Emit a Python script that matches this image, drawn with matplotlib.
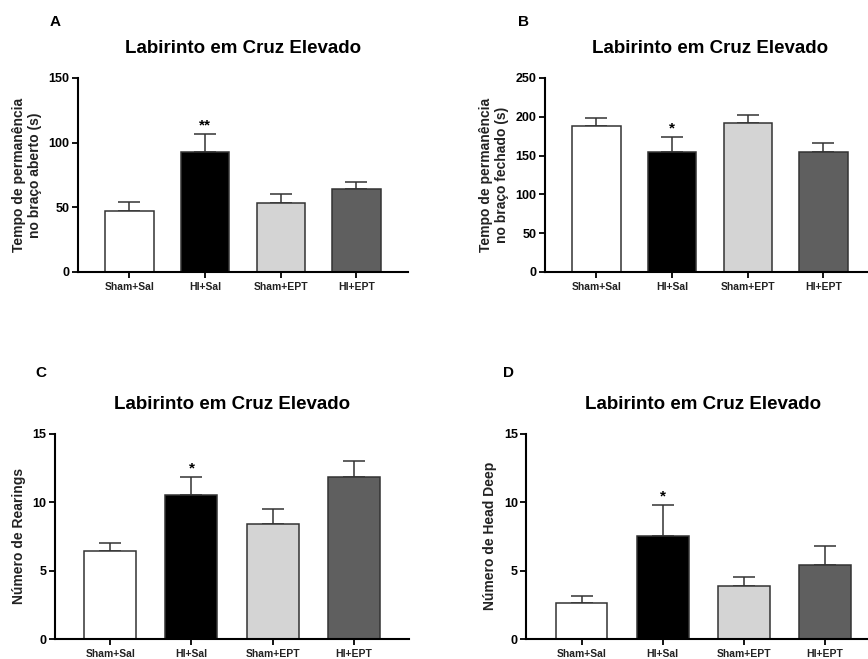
# Elevated plus maze: four panels, mean + SEM bars (GraphPad-style).

import matplotlib
matplotlib.use("Agg")

import matplotlib.pyplot as plt
import numpy as np

plt.rcParams["font.family"] = ["Liberation Sans", "DejaVu Sans"]
plt.rcParams["font.weight"] = "bold"

groups = ["Sham+Sal", "HI+Sal", "Sham+EPT", "HI+EPT"]
bar_colors = ["#ffffff", "#000000", "#d4d4d4", "#5f5f5f"]

# panel A: time in open arm (s)
open_mean = [47, 93, 53, 64]
open_sem = [7, 13.5, 7.5, 5.5]
open_stars = ["", "**", "", ""]

# panel B: time in closed arm (s)
closed_mean = [188.5, 154.5, 192.5, 154]
closed_sem = [10, 20, 10, 12.5]
closed_stars = ["", "*", "", ""]

# panel C: rearings
rear_mean = [6.4, 10.55, 8.4, 11.8]
rear_sem = [0.6, 1.3, 1.1, 1.2]
rear_stars = ["", "*", "", ""]

# panel D: head dips
head_mean = [2.65, 7.55, 3.85, 5.4]
head_sem = [0.5, 2.25, 0.65, 1.4]
head_stars = ["", "*", "", ""]

title = "Labirinto em Cruz Elevado"

# letter, data, y range, ticks, label, axes rect, letter position
panels = [
    ("A", open_mean, open_sem, open_stars, (0, 150), [0, 50, 100, 150],
     "Tempo de permanência\nno braço aberto (s)", [0.0899, 0.5873, 0.380, 0.2944],
     (0.057, 0.966)),
    ("B", closed_mean, closed_sem, closed_stars, (0, 250), [0, 50, 100, 150, 200, 250],
     "Tempo de permanência\nno braço fechado (s)", [0.6279, 0.5873, 0.380, 0.2944],
     (0.597, 0.966)),
    ("C", rear_mean, rear_sem, rear_stars, (0, 15), [0, 5, 10, 15],
     "Número de Rearings", [0.0634, 0.0303, 0.408, 0.3116],
     (0.041, 0.434)),
    ("D", head_mean, head_sem, head_stars, (0, 15), [0, 5, 10, 15],
     "Número de Head Deep", [0.6063, 0.0303, 0.408, 0.3116],
     (0.580, 0.434)),
]

fig = plt.figure(figsize=(8.68, 6.59), dpi=100)

for letter, mean, sem, stars, ylim, yticks, ylabel, rect, lpos in panels:
    ax = fig.add_axes(rect)
    x = np.arange(len(groups))
    ax.errorbar(x, mean, yerr=[np.zeros(len(sem)), sem], fmt="none",
                ecolor="#333333", elinewidth=1.1, capsize=8, capthick=1.1, zorder=1)
    ax.bar(x, mean, width=0.64, color=bar_colors, edgecolor="#333333",
           linewidth=1.1, zorder=2)
    for xi, m, s, st in zip(x, mean, sem, stars):
        if st:
            ax.annotate(st, (xi, m + s), textcoords="offset points", xytext=(0, 1),
                        ha="center", va="bottom", fontsize=11)

    ax.set_xlim(-0.68, 3.68)
    ax.set_ylim(*ylim)
    ax.set_yticks(yticks)
    ax.set_xticks(x)
    ax.set_xticklabels(groups, fontsize=7.5, fontweight="bold", color="#222222")
    ax.tick_params(axis="y", labelsize=9, length=4, width=1.3, pad=2)
    ax.tick_params(axis="x", length=4, width=1.3, pad=3)
    for sp in ("top", "right"):
        ax.spines[sp].set_visible(False)
    for sp in ("left", "bottom"):
        ax.spines[sp].set_linewidth(1.5)
    ax.set_ylabel(ylabel, fontsize=10, fontweight="bold", color="#222222", labelpad=5)
    ax.set_title(title, fontsize=13.5, fontweight="bold", pad=18)

    fig.text(lpos[0], lpos[1], letter, fontsize=11, fontweight="bold",
             ha="left", va="center")

fig.savefig("out.png", dpi=100)
